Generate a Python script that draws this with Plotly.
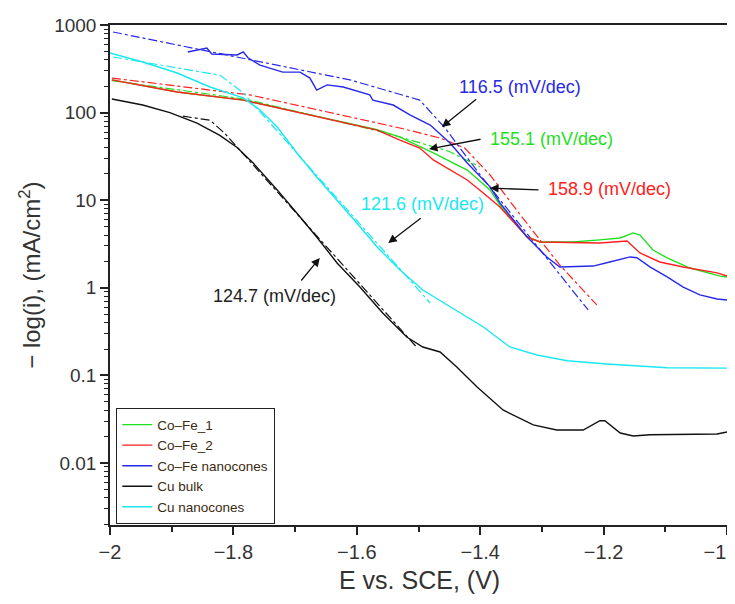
import plotly.graph_objects as go

# ---------------- data (E in V vs SCE, current density in mA/cm^2) ----------------
cu_bulk_E = [-1.997, -1.947, -1.903, -1.859, -1.822, -1.794, -1.768, -1.729, -1.697, -1.665,
             -1.632, -1.595, -1.558, -1.519, -1.493, -1.465, -1.438, -1.405, -1.363, -1.314,
             -1.276, -1.233, -1.206, -1.198, -1.173, -1.152, -1.125, -1.016, -1.0]
cu_bulk_i = [143, 122, 100, 76, 55, 40, 26.6, 13.1, 7.1, 3.8,
             1.92, 1.02, 0.515, 0.274, 0.211, 0.185, 0.125, 0.0737, 0.0403, 0.0272,
             0.0238, 0.0238, 0.0304, 0.0304, 0.022, 0.0203, 0.021, 0.0214, 0.0226]
cu_bulk_fit_E = [-1.882, -1.838, -1.814, -1.502]
cu_bulk_fit_i = [91, 82, 58, 0.206]

cu_nc_E = [-2.0, -1.947, -1.891, -1.838, -1.784, -1.757, -1.729, -1.697, -1.665, -1.632,
           -1.6, -1.567, -1.53, -1.493, -1.449, -1.395, -1.352, -1.308, -1.259, -1.195,
           -1.097, -1.0]
cu_nc_i = [479, 378, 283, 196, 147, 107, 68.5, 34.6, 18.4, 10,
           5.5, 2.92, 1.6, 0.944, 0.604, 0.357, 0.211, 0.171, 0.147, 0.135,
           0.122, 0.121]
cu_nc_fit_E = [-1.995, -1.822, -1.784, -1.481]
cu_nc_fit_i = [431, 268, 168, 0.67]

cofe_nc_E = [-1.874, -1.843, -1.835, -1.794, -1.784, -1.776, -1.757, -1.720, -1.692, -1.676,
             -1.665, -1.648, -1.622, -1.579, -1.574, -1.541, -1.514, -1.481, -1.449, -1.421,
             -1.384, -1.368, -1.324, -1.292, -1.271, -1.217, -1.190, -1.157, -1.146, -1.125,
             -1.097, -1.071, -1.044, -1.016, -1.0]
cofe_nc_i = [492, 546, 467, 455, 492, 420, 349, 290, 290, 248,
             181, 207, 196, 159, 139, 122, 94, 72, 45, 26.6,
             14.2, 9.3, 3.8, 2.25, 1.73, 1.77, 1.97, 2.25, 2.2, 1.73,
             1.33, 1.02, 0.83, 0.745, 0.726]
cofe_nc_fit_E = [-1.995, -1.773, -1.611, -1.498, -1.457, -1.400, -1.335, -1.271, -1.225]
cofe_nc_fit_i = [832, 399, 236, 139, 66.7, 19.4, 5.2, 1.4, 0.558]

cofe2_E = [-1.997, -1.891, -1.784, -1.676, -1.567, -1.530, -1.498, -1.476, -1.449, -1.421,
           -1.395, -1.368, -1.324, -1.303, -1.206, -1.162, -1.141, -1.109, -1.071, -1.016, -1.0]
cofe2_i = [236, 172, 139, 94, 63, 48.6, 39.4, 28.8, 22.1, 17.0,
           12.1, 8.36, 3.8, 3.33, 3.24, 3.42, 2.5, 1.97, 1.73, 1.48, 1.36]
cofe2_fit_E = [-1.997, -1.773, -1.530, -1.465, -1.425, -1.384, -1.335, -1.271, -1.211]
cofe2_fit_i = [248, 159, 66.7, 51.3, 39.4, 19.4, 6.8, 1.82, 0.637]

cofe1_E = [-1.997, -1.891, -1.784, -1.676, -1.567, -1.530, -1.476, -1.421, -1.384, -1.368,
           -1.324, -1.303, -1.250, -1.206, -1.173, -1.152, -1.141, -1.120, -1.097, -1.060,
           -1.011, -1.0]
cofe1_i = [236, 172, 139, 95, 64, 52.6, 34.6, 22.1, 13.1, 8.8,
           3.8, 3.33, 3.33, 3.52, 3.7, 4.23, 4.0, 2.7, 2.19, 1.68,
           1.36, 1.33]
cofe1_fit_E = [-1.997, -1.780, -1.550, -1.450, -1.400]
cofe1_fit_i = [232, 142, 58, 36, 24]

x_ticks = [-2, -1.8, -1.6, -1.4, -1.2, -1]
x_ticklabels = ["\u22122", "\u22121.8", "\u22121.6", "\u22121.4", "\u22121.2", "\u22121\u2003\u2009"]
y_ticks = [1000, 100, 10, 1, 0.1, 0.01]
y_ticklabels = ["1000", "100", "10", "1", "0.1", "0.01"]

slopes = ["116.5 (mV/dec)", "155.1 (mV/dec)", "158.9 (mV/dec)", "121.6 (mV/dec)", "124.7 (mV/dec)"]

GREEN = "#1ee01e"
RED = "#ff2020"
BLUE = "#2828e8"
BLACK = "#111111"
CYAN = "#18e8f0"

fig = go.Figure()

def fit(E, i, color):
    fig.add_trace(go.Scatter(x=E, y=i, mode="lines", showlegend=False,
                             line=dict(color=color, width=1.2, dash="dashdot"),
                             hoverinfo="skip"))

fit(cofe1_fit_E, cofe1_fit_i, GREEN)
fit(cofe2_fit_E, cofe2_fit_i, RED)
fit(cofe_nc_fit_E, cofe_nc_fit_i, BLUE)
fit(cu_bulk_fit_E, cu_bulk_fit_i, BLACK)
fit(cu_nc_fit_E, cu_nc_fit_i, CYAN)

fig.add_trace(go.Scatter(x=cofe1_E, y=cofe1_i, mode="lines", name="Co\u2013Fe_1",
                         line=dict(color=GREEN, width=1.4)))
fig.add_trace(go.Scatter(x=cofe2_E, y=cofe2_i, mode="lines", name="Co\u2013Fe_2",
                         line=dict(color=RED, width=1.4)))
fig.add_trace(go.Scatter(x=cofe_nc_E, y=cofe_nc_i, mode="lines", name="Co\u2013Fe nanocones",
                         line=dict(color=BLUE, width=1.4)))
fig.add_trace(go.Scatter(x=cu_bulk_E, y=cu_bulk_i, mode="lines", name="Cu bulk",
                         line=dict(color=BLACK, width=1.4)))
fig.add_trace(go.Scatter(x=cu_nc_E, y=cu_nc_i, mode="lines", name="Cu nanocones",
                         line=dict(color=CYAN, width=1.4)))

FONT = "Liberation Sans, Arial, sans-serif"

# slope labels
label_pos = [(-1.335, 2.292, BLUE), (-1.285, 1.699, GREEN), (-1.191, 1.128, RED),
             (-1.493, 0.957, CYAN), (-1.734, -0.094, "#222222")]
for txt, (lx, ly, c) in zip(slopes, label_pos):
    fig.add_annotation(x=lx, y=ly, text=txt, showarrow=False,
                       font=dict(family=FONT, size=18, color=c))

# arrows (head x, head log y, tail x, tail log y)
arrows = [(-1.462, 1.836, -1.404, 2.167), (-1.483, 1.584, -1.397, 1.699),
          (-1.384, 1.139, -1.303, 1.116), (-1.549, 0.511, -1.494, 0.808),
          (-1.660, 0.340, -1.692, 0.066)]
for hx, hy, tx, ty in arrows:
    fig.add_annotation(x=hx, y=hy, ax=tx, ay=ty, xref="x", yref="y", axref="x", ayref="y",
                       text="", showarrow=True, arrowhead=2, arrowsize=1.3, arrowwidth=1.3,
                       arrowcolor="#111111")

# axis titles
fig.add_annotation(x=0.502, y=-0.11, xref="paper", yref="paper", text="E vs. SCE, (V)",
                   showarrow=False, xanchor="center", yanchor="middle",
                   font=dict(family=FONT, size=25, color="#333333"))
fig.add_annotation(x=-0.13, y=0.5, xref="paper", yref="paper",
                   text="\u2212 log(i), (mA/cm<sup>2</sup>)", textangle=-90,
                   showarrow=False, xanchor="center", yanchor="middle",
                   font=dict(family=FONT, size=24, color="#333333"))

minor_vals = [m * 10.0 ** d for d in range(-3, 3) for m in range(2, 10)]

# the page body adds an 8 px offset, so the figure is sized/margined to compensate
fig.update_layout(
    width=727, height=588,
    margin=dict(l=102, r=8, t=17, b=71),
    paper_bgcolor="white", plot_bgcolor="white",
    font=dict(family=FONT, size=17, color="#333333"),
    legend=dict(x=0.0097, y=0.234, xanchor="left", yanchor="top",
                bordercolor="#222222", borderwidth=1.3, bgcolor="white",
                font=dict(family=FONT, size=13.5, color="#3a2a10"),
                tracegroupgap=0, itemwidth=30),
    showlegend=True,
)
fig.update_xaxes(range=[-2, -1], tickvals=x_ticks, ticktext=x_ticklabels,
                 ticks="outside", ticklen=8, tickwidth=1.5,
                 tickcolor="#222222", showline=True, linecolor="#222222", linewidth=1.5,
                 mirror=True, showgrid=False, zeroline=False, automargin=False,
                 ticklabelstandoff=0, ticklabeloverflow="allow",
                 minor=dict(dtick=0.1, ticks="outside", ticklen=5, tickwidth=1.5, tickcolor="#222222"),
                 tickfont=dict(family=FONT, size=20, color="#333333"))
fig.update_yaxes(type="log", range=[-2.708, 3], tickvals=y_ticks, ticktext=y_ticklabels,
                 ticks="outside", ticklen=8, tickwidth=1.5, tickcolor="#222222",
                 showline=True, linecolor="#222222", linewidth=1.5, mirror=True,
                 showgrid=False, zeroline=False, automargin=False,
                 minor=dict(tickvals=minor_vals, ticks="outside", ticklen=4, tickwidth=1.2,
                            tickcolor="#222222"),
                 tickfont=dict(family=FONT, size=19, color="#333333"))

fig.write_html("out.html")
